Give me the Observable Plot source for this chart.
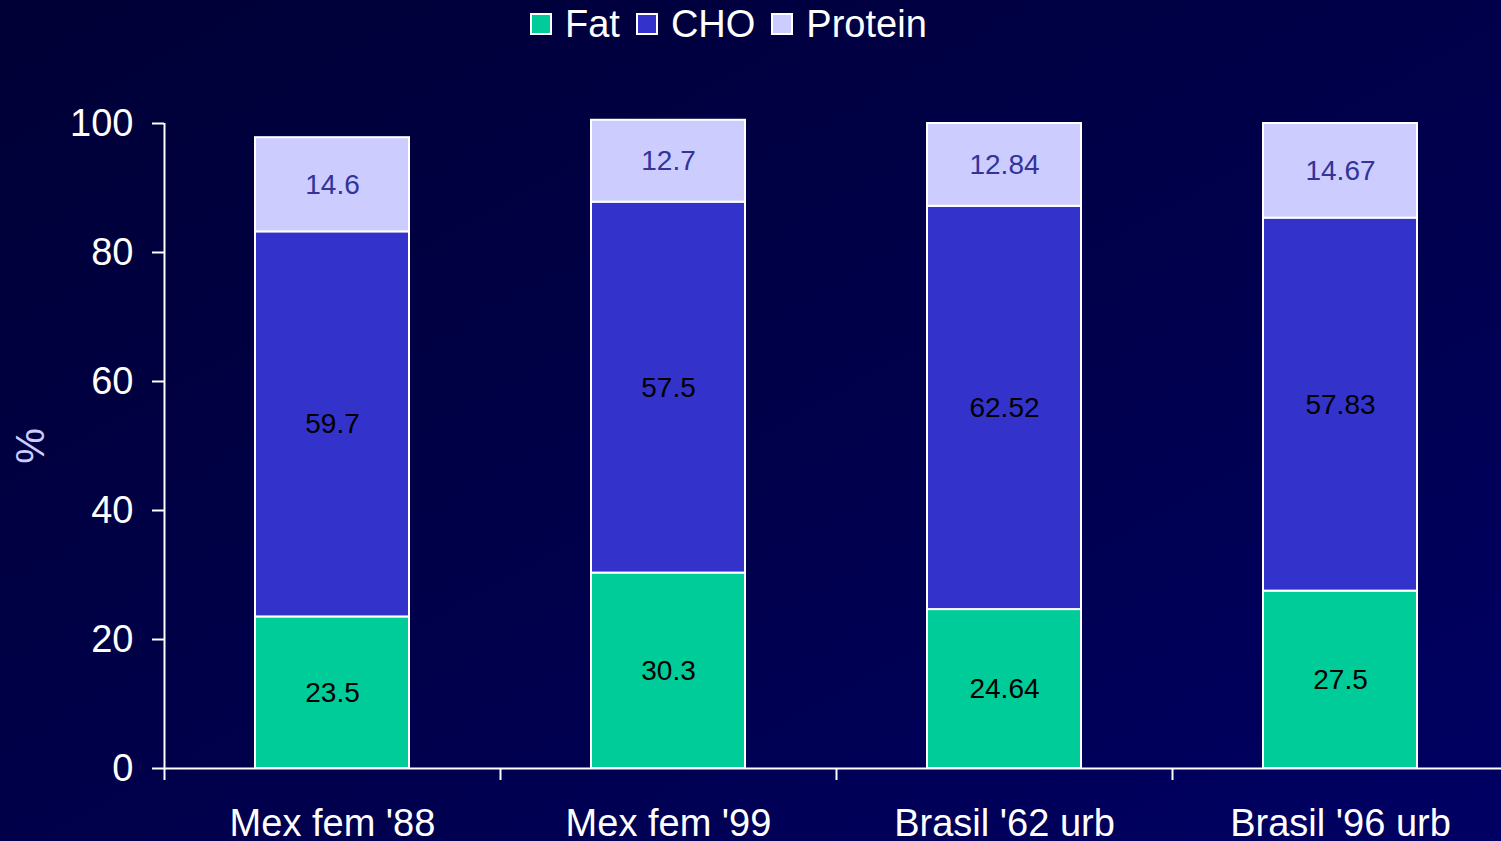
<!DOCTYPE html>
<html>
<head>
<meta charset="utf-8">
<script src="https://cdn.jsdelivr.net/npm/d3@7"></script>
<script src="https://cdn.jsdelivr.net/npm/@observablehq/plot@0.6"></script>
<style>
  html, body { margin: 0; padding: 0; width: 1501px; height: 841px; overflow: hidden;
    background: linear-gradient(to right bottom, #000036, #00004c 55%, #000064);
    font-family: "Liberation Sans", Arial, sans-serif; }
  #wrap { position: relative; width: 1501px; height: 841px; overflow: hidden; }
  #legend { position: absolute; left: 530px; top: 1px; display: flex; align-items: center;
    color: #ffffff; font-size: 38px; line-height: 46px; }
  #legend .item { display: flex; align-items: center; margin-right: 16px; }
  #legend .sw { width: 18px; height: 18px; border: 2px solid #ffffff; margin-right: 13px; }
  #chart { position: absolute; left: 0; top: 0; }
  #chart svg { max-width: none !important; background: transparent !important; }
</style>
</head>
<body>
<div id="wrap">
  <div id="chart"></div>
  <div id="legend"></div>
</div>
<script>
const categories = ["Mex fem '88", "Mex fem '99", "Brasil '62 urb", "Brasil '96 urb"];
const nutrients = ["Fat", "CHO", "Protein"];
const fat = [23.5, 30.3, 24.64, 27.5];
const cho = [59.7, 57.5, 62.52, 57.83];
const protein = [14.6, 12.7, 12.84, 14.67];
const yTicks = [0, 20, 40, 60, 80, 100];
const colors = ["#00cc99", "#3333cc", "#ccccff"];

const series = [fat, cho, protein];
const rows = [];
categories.forEach((c, i) => {
  nutrients.forEach((n, j) => rows.push({category: c, nutrient: n, value: series[j][i]}));
});

const W = 1510, H = 841, ML = 164, MR = 2, MT = 123, MB = 73;
const step = (W - ML - MR) / categories.length;

const chart = Plot.plot({
  width: W,
  height: H,
  marginLeft: ML,
  marginRight: MR,
  marginTop: MT,
  marginBottom: MB,
  style: {background: "transparent", color: "#ffffff", fontFamily: "'Liberation Sans', Arial, sans-serif", overflow: "visible", maxWidth: "none"},
  x: {domain: categories, padding: 0},
  y: {domain: [0, 100]},
  color: {domain: nutrients, range: colors},
  marks: [
    Plot.barY(rows, {x: "category", y: "value", z: "nutrient", fill: "nutrient",
      stroke: "#ffffff", strokeWidth: 2, insetLeft: 91, insetRight: 91, insetTop: 0, insetBottom: 0}),
    Plot.text(rows, Plot.stackY({x: "category", y: "value", z: "nutrient",
      text: d => d.nutrient === "Protein" ? "" : String(d.value), fill: "#000000", fontSize: 28})),
    Plot.text(rows, Plot.stackY({x: "category", y: "value", z: "nutrient",
      text: d => d.nutrient === "Protein" ? String(d.value) : "", fill: "#333399", fontSize: 28})),
    Plot.ruleY([0], {stroke: "#ffffff", strokeWidth: 2}),
    Plot.ruleX(categories, {x: d => d, dx: -step / 2, y1: -1.86, y2: (d, i) => i === 0 ? 100 : 0,
      stroke: "#ffffff", strokeWidth: 2}),
    Plot.axisY({ticks: yTicks, tickSize: 12, tickPadding: 19, fontSize: 38, strokeWidth: 2,
      tickFormat: d => String(d), label: null, color: "#ffffff"}),
    Plot.axisY({ticks: [], label: "%", labelAnchor: "center", labelArrow: false, labelOffset: 149,
      fontSize: 40, color: "#ccccff"}),
    Plot.axisX({tickSize: 0, tickPadding: 41, fontSize: 38, label: null, color: "#ffffff"})
  ]
});
document.getElementById("chart").appendChild(chart);

const legend = document.getElementById("legend");
nutrients.forEach((n, i) => {
  const item = document.createElement("div");
  item.className = "item";
  const sw = document.createElement("span");
  sw.className = "sw";
  sw.style.background = colors[i];
  const label = document.createElement("span");
  label.textContent = n;
  item.appendChild(sw);
  item.appendChild(label);
  legend.appendChild(item);
});
</script>
</body>
</html>
